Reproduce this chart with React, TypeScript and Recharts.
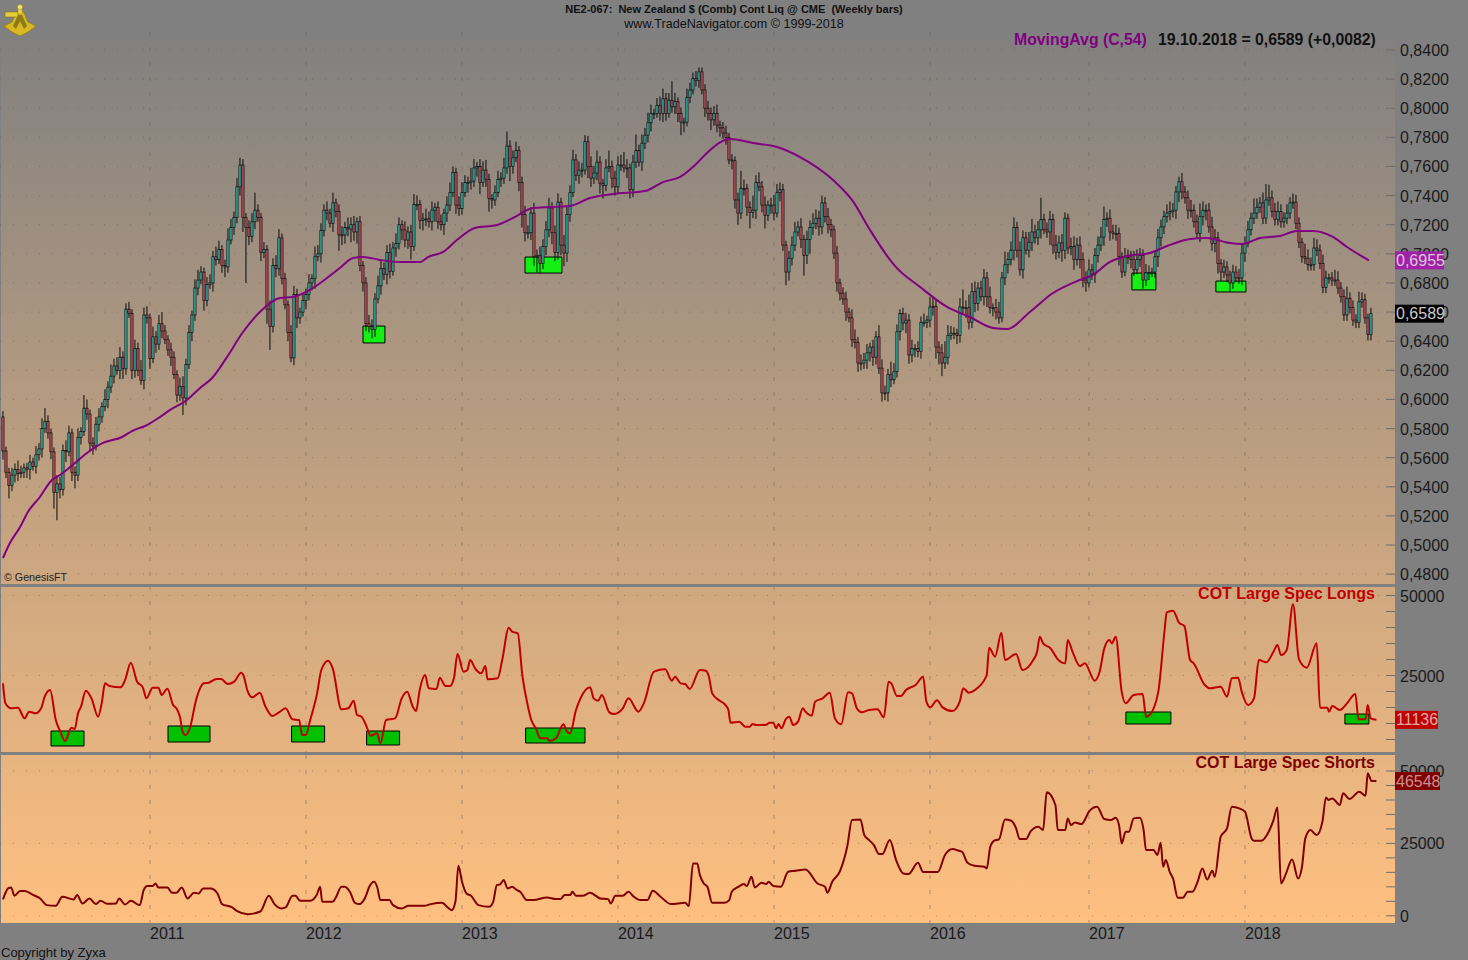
import { Bar, CartesianGrid, ComposedChart, Line, ReferenceArea, ReferenceLine, XAxis, YAxis } from 'recharts';

// weekly closes in 1/10000 of a dollar, ten bars per row, first bar Feb 2010
const firstOpen = 5880;
const closes = [
  5646, 5500, 5410, 5480, 5520, 5490, 5500, 5530, 5520, 5570,
  5540, 5620, 5660, 5800, 5850, 5770, 5640, 5360, 5420, 5380,
  5650, 5640, 5770, 5500, 5480, 5740, 5780, 5940, 5900, 5700,
  5680, 5830, 5880, 5950, 6000, 6085, 6160, 6230, 6200, 6290,
  6210, 6620, 6590, 6200, 6350, 6200, 6130, 6580, 6560, 6280,
  6430, 6380, 6520, 6470, 6410, 6340, 6290, 6170, 6030, 6090,
  6010, 6240, 6460, 6580, 6765, 6820, 6875, 6680, 6790, 6800,
  6980, 6960, 7030, 6920, 6910, 7095, 7180, 7250, 7460, 7610,
  7250, 7180, 7120, 7220, 7300, 7250, 7010, 7030, 6620, 6500,
  6920, 6900, 7110, 6830, 6650, 6460, 6285, 6720, 6560, 6600,
  6680, 6720, 6800, 6830, 6980, 7000, 7160, 7300, 7280, 7210,
  7350, 7290, 7130, 7130, 7180, 7170, 7200, 7150, 7220, 6920,
  6800, 6520, 6500, 6480, 6690, 6780, 6900, 6860, 7010, 6880,
  7040, 7070, 7200, 7164, 7095, 7150, 7050, 7340, 7340, 7230,
  7240, 7240, 7220, 7300, 7320, 7220, 7200, 7280, 7335, 7420,
  7560, 7335, 7310, 7420, 7490, 7490, 7500, 7590, 7600, 7490,
  7575, 7510, 7380, 7370, 7420, 7510, 7520, 7590, 7740, 7600,
  7660, 7710, 7490, 7270, 7145, 7145, 7280, 6980, 6990, 6935,
  7050, 7165, 7315, 7145, 7010, 7355, 7060, 7005, 7270, 7420,
  7645, 7540, 7575, 7575, 7770, 7600, 7520, 7555, 7630, 7485,
  7470, 7590, 7600, 7520, 7460, 7610, 7610, 7590, 7590, 7440,
  7630, 7710, 7630, 7760, 7815, 7900, 7965, 7965, 8020, 7965,
  8065, 7965, 8055, 8010, 8045, 7965, 7905, 7905, 8075, 8125,
  8205, 8190, 8250, 8125, 8000, 7965, 7920, 7965, 7885, 7865,
  7830, 7800, 7645, 7640, 7370, 7280, 7450, 7450, 7320, 7285,
  7300, 7490, 7460, 7335, 7265, 7335, 7335, 7280, 7420, 7440,
  7060, 6875, 6970, 7060, 7150, 7185, 7100, 6990, 7100, 7180,
  7210, 7245, 7185, 7350, 7255, 7200, 7165, 7005, 6800, 6730,
  6690, 6600, 6560, 6410, 6390, 6250, 6250, 6270, 6320, 6360,
  6290, 6430, 6215, 6045, 6045, 6170, 6135, 6190, 6465, 6590,
  6525, 6545, 6305, 6350, 6350, 6330, 6530, 6530, 6545, 6635,
  6640, 6360, 6320, 6250, 6290, 6440, 6455, 6455, 6440, 6635,
  6630, 6630, 6530, 6740, 6660, 6765, 6705, 6835, 6705, 6630,
  6630, 6600, 6560, 6835, 6925, 6960, 7025, 7180, 7025, 6890,
  7110, 7025, 7080, 7150, 7110, 7165, 7235, 7165, 7150, 7235,
  7060, 7010, 7075, 7025, 7245, 7040, 7050, 6960, 7060, 6960,
  6820, 6800, 6890, 6860, 6990, 7060, 7115, 7235, 7245, 7150,
  7140, 7140, 6980, 6875, 6980, 6980, 6960, 6890, 6960, 6990,
  6820, 6870, 6870, 6875, 6980, 7110, 7185, 7255, 7280, 7290,
  7300, 7425, 7495, 7425, 7385, 7300, 7300, 7220, 7140, 7255,
  7300, 7300, 7185, 7070, 7110, 6935, 6875, 6910, 6855, 6800,
  6875, 6835, 6835, 7005, 7070, 7165, 7245, 7280, 7320, 7350,
  7245, 7370, 7385, 7290, 7235, 7290, 7220, 7245, 7280, 7350,
  7355, 7210, 7080, 6980, 6970, 6925, 6925, 7040, 7025, 6935,
  6770, 6835, 6835, 6820, 6820, 6765, 6705, 6580, 6695, 6630,
  6545, 6530, 6670, 6685, 6560, 6445, 6589,
];

// wick lengths above and below the body, same order as closes
const upperWicks = [
  40, 30, 30, 50, 40, 60, 45, 30, 35, 50,
  30, 60, 40, 70, 90, 40, 30, 30, 60, 50,
  40, 70, 50, 30, 40, 60, 30, 90, 60, 30,
  40, 50, 60, 30, 70, 40, 80, 50, 60, 70,
  40, 40, 50, 30, 60, 40, 70, 50, 60, 30,
  70, 40, 60, 80, 40, 30, 50, 40, 30, 60,
  70, 40, 50, 30, 60, 70, 40, 30, 50, 60,
  40, 70, 60, 30, 40, 80, 60, 40, 60, 50,
  40, 30, 50, 60, 120, 40, 30, 50, 30, 60,
  50, 70, 60, 30, 40, 30, 50, 60, 40, 30,
  50, 40, 60, 30, 70, 60, 50, 40, 60, 30,
  70, 30, 50, 60, 40, 70, 50, 60, 30, 40,
  30, 40, 60, 50, 40, 70, 60, 40, 50, 60,
  40, 70, 50, 30, 60, 40, 50, 70, 60, 30,
  40, 70, 50, 60, 30, 40, 50, 30, 60, 70,
  40, 30, 60, 70, 50, 40, 90, 60, 30, 50,
  60, 70, 40, 30, 50, 60, 40, 70, 100, 40,
  50, 60, 30, 40, 60, 50, 40, 70, 40, 60,
  50, 60, 70, 40, 50, 60, 30, 70, 60, 50,
  70, 40, 60, 50, 45, 40, 70, 50, 80, 40,
  30, 60, 110, 40, 50, 60, 70, 90, 60, 30,
  50, 110, 40, 60, 50, 70, 60, 30, 50, 60,
  70, 40, 50, 130, 60, 30, 40, 30, 60, 50,
  40, 50, 30, 30, 40, 50, 40, 50, 60, 30,
  40, 50, 30, 40, 30, 50, 120, 60, 30, 40,
  100, 50, 70, 40, 60, 30, 50, 70, 60, 50,
  40, 30, 50, 60, 70, 40, 60, 30, 60, 50,
  70, 60, 50, 50, 40, 60, 40, 30, 50, 30,
  40, 50, 30, 60, 70, 40, 60, 50, 60, 30,
  50, 40, 80, 60, 50, 40, 90, 60, 50, 30,
  40, 50, 40, 60, 30, 50, 40, 60, 30, 70,
  60, 50, 40, 60, 110, 70, 50, 40, 30, 60,
  120, 50, 90, 60, 70, 40, 50, 60, 40, 70,
  30, 60, 70, 40, 90, 50, 60, 70, 40, 60,
  50, 40, 70, 90, 50, 60, 150, 40, 50, 60,
  40, 70, 50, 60, 40, 30, 60, 70, 50, 60,
  50, 60, 70, 40, 50, 60, 70, 90, 40, 60,
  50, 60, 40, 30, 60, 50, 40, 60, 70, 50,
  40, 60, 50, 30, 40, 60, 50, 40, 60, 70,
  50, 40, 35, 60, 40, 50, 70, 40, 50, 90,
  60, 40, 50, 70, 60, 40, 30, 50, 40, 30,
  50, 40, 60, 70, 50, 60, 40, 100, 60, 40,
  70, 110, 90, 50, 60, 70, 50, 40, 60, 40,
  60, 50, 40, 30, 90, 60, 50, 70, 60, 40,
  60, 50, 30, 40, 70, 60, 40, 50, 80, 40,
  50, 40, 70, 50, 40, 30, 40,
];

const lowerWicks = [
  60, 40, 90, 40, 50, 50, 30, 40, 60, 70,
  30, 50, 40, 60, 30, 40, 50, 110, 190, 60,
  40, 70, 30, 60, 90, 40, 50, 30, 40, 50,
  60, 30, 50, 40, 30, 60, 40, 50, 30, 60,
  70, 40, 30, 60, 50, 40, 30, 60, 40, 70,
  30, 60, 40, 50, 30, 40, 60, 30, 50, 40,
  117, 50, 30, 60, 40, 50, 30, 70, 40, 30,
  60, 40, 30, 50, 70, 40, 30, 50, 40, 60,
  100, 380, 60, 40, 50, 30, 60, 40, 100, 160,
  40, 60, 50, 40, 30, 60, 30, 50, 70, 40,
  30, 60, 40, 50, 70, 30, 60, 40, 50, 30,
  60, 40, 110, 70, 60, 50, 90, 60, 80, 40,
  60, 50, 40, 60, 50, 30, 60, 40, 70, 50,
  30, 60, 40, 70, 50, 60, 90, 30, 40, 60,
  70, 50, 40, 60, 80, 50, 40, 70, 60, 40,
  30, 60, 50, 40, 30, 70, 50, 40, 60, 80,
  30, 50, 90, 60, 40, 30, 50, 40, 40, 100,
  50, 30, 60, 90, 60, 40, 50, 60, 110, 70,
  40, 60, 50, 80, 60, 50, 70, 90, 60, 50,
  30, 40, 60, 50, 30, 80, 60, 40, 50, 70,
  90, 40, 30, 70, 60, 50, 40, 30, 70, 60,
  50, 40, 30, 60, 40, 50, 60, 40, 30, 50,
  60, 50, 30, 40, 50, 60, 90, 70, 30, 40,
  30, 40, 50, 30, 60, 50, 70, 40, 50, 60,
  40, 50, 30, 60, 60, 80, 40, 50, 60, 110,
  40, 60, 30, 50, 90, 40, 60, 50, 30, 60,
  40, 90, 60, 50, 40, 30, 60, 140, 60, 100,
  50, 40, 60, 50, 40, 60, 50, 40, 60, 50,
  40, 60, 30, 50, 40, 60, 50, 40, 60, 60,
  60, 50, 40, 60, 50, 60, 50, 30, 40, 60,
  50, 70, 60, 50, 60, 40, 50, 30, 40, 50,
  60, 80, 80, 90, 40, 50, 30, 40, 60, 50,
  40, 70, 50, 40, 60, 50, 30, 60, 70, 40,
  60, 50, 40, 30, 50, 60, 40, 70, 50, 40,
  60, 30, 50, 60, 40, 50, 60, 30, 40, 90,
  60, 50, 40, 80, 60, 40, 50, 70, 40, 60,
  50, 60, 30, 40, 60, 50, 40, 60, 50, 60,
  40, 50, 60, 40, 30, 50, 60, 40, 30, 50,
  60, 40, 50, 30, 40, 70, 60, 50, 40, 50,
  40, 60, 70, 50, 40, 60, 50, 40, 30, 60,
  60, 70, 40, 50, 60, 70, 60, 40, 50, 60,
  40, 30, 40, 50, 60, 25, 40,
];

const movingAvg = [
  [0, 4911], [2.3, 5014], [5.7, 5124], [8.3, 5227], [12.3, 5330], [16.3, 5447], [19, 5481], [24, 5564], [28, 5632],
  [33.3, 5701], [39.7, 5742], [43, 5783], [48, 5824], [52.3, 5879], [55.7, 5928], [61.3, 5996], [65.7, 6079], [69.7, 6147],
  [74.7, 6292], [80, 6463], [86.3, 6614], [92.3, 6697], [96.7, 6704], [102.3, 6752], [108, 6834], [112.3, 6903], [116.7, 6971],
  [120, 6978], [125.7, 6958], [132.3, 6944], [139, 6944], [141.7, 6978], [146.7, 7013], [151.3, 7095], [157.3, 7178], [164.7, 7198],
  [170, 7246], [176.7, 7315], [189, 7329], [195.7, 7384], [203.3, 7411], [214, 7432], [220, 7493], [225.7, 7528], [230.7, 7610],
  [235, 7700], [242.3, 7789], [250, 7761], [258, 7734], [265.7, 7665], [276.7, 7507], [283, 7370], [289, 7164], [295.7, 6958],
  [297.3, 6917], [305.7, 6772], [314.7, 6635], [322.3, 6566], [330, 6491], [334.7, 6484], [342.3, 6601], [350, 6731], [358, 6813],
  [363.3, 6855], [369, 6944], [374.7, 6985], [382.3, 7006], [388, 7054], [395.7, 7102], [401.3, 7109], [409, 7074], [413, 7068],
  [419, 7109], [425.7, 7123], [431.3, 7157], [436.7, 7157], [443.3, 7116], [448, 7047], [455.3, 6955],
];

const specLongs = [
  [0, 22550], [0.8, 16300], [2.7, 14740], [5, 14950], [7.2, 11610], [8.7, 13700], [10.9, 13170], [12.7, 14740], [13.9, 18380], [15.7, 20470],
  [17.6, 11090], [19.1, 7450], [20.7, 4530], [22.8, 8700], [23.9, 8280], [25, 13170], [26, 15260], [27.6, 20260], [29.5, 17860], [31.7, 12130],
  [32.9, 16300], [34, 22550], [35.5, 21720], [39.2, 21300], [40.7, 23590], [42.6, 29010], [44.7, 23070], [46.6, 21300], [47.8, 17860], [49.9, 21200],
  [51.8, 21200], [52.9, 18900], [54.8, 20880], [56.7, 15780], [57.8, 14740], [59.3, 10570], [59.7, 7970], [60.8, 6400], [62.2, 8280], [64.5, 17860],
  [66.9, 22550], [68.6, 22760], [71.2, 23900], [72.7, 23900], [74.9, 22340], [77.1, 23070], [79.4, 25880], [80.1, 25150], [81.6, 19950], [83.1, 18180],
  [85.6, 19630], [87.5, 15260], [89.8, 12340], [92, 13490], [94.2, 14740], [96.5, 11300], [98.7, 11090], [99.7, 6400], [100.9, 6400], [102.4, 11090],
  [104.7, 19420], [106.1, 26720], [108.4, 29630], [109.9, 27240], [112.8, 14420], [115.1, 14740], [116.9, 17130], [118, 12650], [119.5, 12130], [121.3, 8800],
  [122.5, 6200], [124.7, 6920], [125.8, 3800], [127.7, 11090], [130.7, 11610], [132.9, 17860], [134.7, 19950], [136.6, 15260], [137.7, 13900], [138.9, 20470],
  [140.7, 25150], [141.9, 20990], [144.5, 20780], [145.6, 24320], [147.5, 21720], [149, 21720], [150.3, 24110], [151.5, 31720], [153.5, 26200], [154.8, 26720],
  [155.7, 29840], [157.5, 27030], [159.4, 25680], [160.8, 27970], [161.5, 23800], [164.9, 24110], [166.4, 29840], [168.6, 39950], [169.7, 38700], [171.6, 38180],
  [173.1, 25150], [175, 15260], [176.1, 11090], [177.6, 8490], [179.1, 5360], [181.3, 5360], [182.3, 4530], [184.3, 5360], [186.8, 9740], [188, 7450],
  [189, 6920], [191, 14220], [192.5, 17860], [195.7, 21300], [196.9, 17860], [198.4, 17130], [199.6, 18900], [202.1, 13490], [203.6, 12960], [206.6, 14740],
  [208.5, 17860], [211.8, 13700], [213.6, 16300], [217, 26200], [220.7, 26930], [223, 23380], [224, 24640], [225.9, 22550], [227.4, 22340], [228.9, 20780],
  [232.3, 26720], [234.3, 26510], [235.3, 24640], [236.4, 19420], [238.9, 17130], [240.5, 16090], [241.8, 14220], [242.5, 10260], [245.4, 10570], [247.4, 9010],
  [249, 9010], [249.8, 9840], [251.1, 9530], [254.4, 9630], [255.5, 10260], [256.8, 10260], [257.7, 8490], [258.5, 9840], [259.5, 8490], [260.9, 11300],
  [262.1, 12130], [263.4, 9530], [265, 10570], [266.6, 14740], [267.5, 13700], [269.6, 12450], [270.7, 16820], [273.2, 17860], [275.6, 19630], [277.3, 11610],
  [279.4, 9740], [281.7, 19740], [283, 19420], [284.6, 14740], [286.2, 13490], [288.7, 14220], [291.5, 14420], [293.6, 11920], [295.2, 23070], [296.1, 22550],
  [298, 18590], [299.3, 18590], [301, 20470], [304.2, 22030], [306.7, 24640], [307.8, 16820], [309.1, 15050], [311.3, 17240], [313.2, 15050], [316.5, 13900],
  [318.9, 16820], [320.1, 20990], [321.9, 19630], [324.7, 20990], [327.9, 25150], [328.7, 33700], [330.7, 30880], [332.8, 38380], [334, 29840], [337.7, 31720],
  [339.8, 26720], [343.4, 29840], [344.7, 32450], [345.6, 37130], [346.7, 35050], [349.2, 33490], [351.6, 30050], [354.1, 28800], [354.9, 36090], [356.5, 32450],
  [359, 27970], [360.6, 28800], [363.9, 23380], [365.5, 25990], [367.1, 33490], [368.8, 36090], [369.6, 35050], [370.9, 37130], [372.9, 19950], [374.2, 16300],
  [376.9, 18900], [379.9, 19220], [381, 12130], [382.2, 12650], [385.1, 19950], [387.2, 39220], [387.9, 44740], [390, 45260], [392, 41510], [393.8, 40470],
  [395.7, 29840], [396.9, 28800], [400.6, 22030], [402.3, 20990], [405.9, 21510], [408, 18380], [409.6, 24110], [411.7, 24320], [412.9, 19950], [415, 15780],
  [417, 17860], [418.6, 29840], [421.1, 29110], [423.5, 32450], [424.8, 34530], [426, 31400], [427.9, 32970], [430, 47240], [432, 30050], [434.6, 27450],
  [437.9, 35050], [439, 14950], [441.5, 14950], [442, 13700], [443.1, 15470], [445.6, 14220], [448, 16300], [450.8, 19220], [451.8, 11300], [454.2, 11300],
  [454.9, 15780], [455.9, 11610], [457.8, 11136],
];

const specShorts = [
  [0, 5645], [1.7, 9446], [2.7, 9792], [3.8, 6912], [5.7, 8525], [7.2, 8525], [10.2, 7142], [12.4, 5990], [14.6, 3686], [17.6, 3456],
  [19.8, 6566], [23.6, 5645], [24.7, 7142], [26.5, 4262], [28.8, 5990], [31, 4032], [32.5, 5184], [34.7, 4147], [37.7, 4262], [38.7, 5990],
  [40.7, 3917], [42.6, 5184], [45.6, 3686], [46.9, 8870], [48.1, 10253], [49.9, 10253], [50.8, 11174], [51.8, 9792], [54.8, 9792], [56.3, 7949],
  [57.8, 7949], [59.6, 9792], [61.5, 5990], [63.7, 7949], [65.2, 7718], [66.7, 9446], [69.2, 9446], [71.5, 7718], [73, 4032], [76.4, 2880],
  [77.9, 1728], [81.6, 576], [85.8, 1498], [88.6, 6912], [90.5, 4032], [92.8, 2534], [94.2, 2880], [96.5, 6912], [97.5, 6912], [99, 5184],
  [102.4, 5184], [104.7, 7488], [105.7, 10022], [106.4, 4838], [109.9, 4838], [110.9, 6221], [112.8, 10022], [113.9, 10022], [115.8, 7949], [117.3, 4493],
  [118.8, 4032], [120.7, 6221], [122.1, 10022], [123.7, 11750], [124.7, 10022], [125.8, 5414], [128.8, 5414], [130, 3686], [132.9, 2534], [135.2, 3456],
  [140.4, 3456], [142.6, 4032], [146.3, 4493], [148.6, 2534], [149.6, 1958], [150.8, 4838], [151.8, 17280], [153, 11750], [154.5, 7718], [156, 6912],
  [158.5, 3686], [162, 3110], [163.4, 4838], [164.6, 10598], [165.7, 10829], [166.9, 12326], [168.2, 9446], [169.7, 10022], [171.3, 8870], [172.4, 8294],
  [174.6, 5414], [176.8, 5414], [181.3, 6336], [184.3, 5760], [185.8, 5760], [187.2, 7142], [189, 7142], [189.8, 8294], [191, 6912], [193.2, 6912],
  [195.7, 7949], [199.1, 5990], [201.7, 5760], [202.6, 4262], [204.1, 6912], [206.6, 6912], [208.5, 8294], [210.3, 6566], [212.5, 5414], [214.8, 5414],
  [216.6, 8640], [219.2, 6566], [222.7, 4032], [227.4, 4493], [228.6, 3341], [230, 18086], [231.4, 18086], [232.3, 14054], [233.6, 11174], [234.8, 10022],
  [236.4, 4493], [240.5, 4493], [242.1, 5414], [242.9, 8294], [245.1, 10022], [247, 10944], [247.9, 10253], [249.5, 13478], [250.6, 9792], [252.8, 11405],
  [254.4, 10944], [255.2, 11750], [256.8, 10253], [259.3, 10022], [261.7, 15206], [264.2, 15552], [267.5, 16013], [271.5, 11174], [274, 10022], [274.8, 7949],
  [276.4, 11750], [278.9, 15206], [281.4, 23846], [283, 33062], [285.8, 33293], [287.1, 27878], [288.7, 26150], [290.3, 24422], [292, 21312], [293.1, 21312],
  [295.6, 26150], [297.7, 19238], [300.1, 14630], [301.8, 14400], [305, 18317], [306.7, 15091], [311.6, 15091], [314, 20966], [316.5, 23040], [318.6, 22464],
  [319.7, 22118], [321.4, 18432], [323.8, 17280], [327.1, 16934], [327.9, 16358], [329.1, 23846], [330.4, 25920], [332, 26381], [334, 33293], [336.1, 32832],
  [337.7, 30182], [338.9, 26496], [341, 26496], [342.6, 29261], [345.1, 30758], [346.7, 29606], [347.9, 42624], [350.8, 38246], [351.6, 29606], [354.1, 29606],
  [354.9, 33638], [356, 31334], [357.3, 32256], [359.5, 31680], [362.2, 36288], [364.7, 37670], [367.1, 33408], [369.3, 33062], [370.9, 33869], [372, 31334],
  [372.9, 24998], [374.2, 29030], [375.3, 29030], [376.9, 33638], [378.9, 33869], [380.2, 29606], [381, 22694], [383.5, 22694], [384.8, 20966], [385.9, 25229],
  [386.7, 16934], [387.6, 19238], [388.9, 15206], [390, 12902], [391.6, 6221], [393.3, 6221], [394.9, 8294], [396.5, 8294], [398.2, 11750], [399.8, 16358],
  [401.4, 12557], [403.1, 15552], [403.9, 13478], [405.9, 27302], [408, 30182], [409.6, 37670], [412.1, 37094], [414, 35942], [416.2, 26726], [417, 25920],
  [419.4, 25920], [421.9, 29030], [423.5, 33062], [424.8, 37440], [426, 11174], [427.6, 14400], [429.7, 19469], [431.7, 12902], [433, 16934], [434.1, 26726],
  [435.8, 29606], [437.9, 27878], [439.8, 32486], [441, 40896], [441.8, 39974], [443.1, 40550], [445.6, 38246], [446.7, 42278], [448.8, 40320], [452.1, 42854],
  [454.2, 41472], [454.9, 49190], [456.2, 46541], [457.8, 46548],
];

// green marker boxes: week from, week to, value bottom, value top
const priceBoxes = [
  [120, 127.3, 0.6388, 0.6504],
  [174, 186.3, 0.6868, 0.6978],
  [376.3, 384.3, 0.6752, 0.6868],
  [404.3, 414.3, 0.6738, 0.6813],
];
const longBoxes = [
  [16, 27, 2970, 7656],
  [55, 69, 4219, 9219],
  [96.2, 107.2, 4219, 9219],
  [121.2, 132.2, 3281, 7656],
  [174.2, 194, 3906, 8594],
  [374.3, 389.3, 9844, 13594],
  [447.3, 455.3, 9844, 12969],
];

const yearWeeks = [49, 101, 153, 205, 257, 309, 362, 414];
const yearLabels = ['2011', '2012', '2013', '2014', '2015', '2016', '2017', '2018'];
const weekDomain = [-1, 464];

const priceTicks = [0.48, 0.5, 0.52, 0.54, 0.56, 0.58, 0.6, 0.62, 0.64, 0.66, 0.68, 0.7, 0.72, 0.74, 0.76, 0.78, 0.8, 0.82, 0.84];
const cotTicks = [0, 5000, 10000, 15000, 20000, 25000, 30000, 35000, 40000, 45000, 50000];
const cotLabelled = [0, 25000, 50000];

const priceDomain = [0.47324, 0.85236];
const longDomain = [1094, 52969];
const shortDomain = [-2488, 55530];

const candles = closes.map((close, i) => {
  const open = i === 0 ? firstOpen : closes[i - 1];
  const high = Math.max(open, close) + (upperWicks[i] ?? 40);
  const low = Math.min(open, close) - (lowerWicks[i] ?? 40);
  return {
    week: i,
    open: open / 10000,
    close: close / 10000,
    range: [low / 10000, high / 10000],
  };
});
const maRows = movingAvg.map(([week, v]) => ({ week, value: v / 10000 }));
const longRows = specLongs.map(([week, value]) => ({ week, value }));
const shortRows = specShorts.map(([week, value]) => ({ week, value }));

const FONT = '"Liberation Sans", Arial, sans-serif';
const PLOT_RIGHT_GUTTER = 73;

function Candle(props: any) {
  const { x, y, width, height, payload } = props;
  const top = Math.min(y, y + height);
  const h = Math.abs(height);
  const [low, high] = payload.range;
  const perUnit = h / (high - low || 1);
  const yOf = (v: number) => top + (high - v) * perUnit;
  const cx = x + width / 2;
  const bodyTop = yOf(Math.max(payload.open, payload.close));
  const bodyBottom = yOf(Math.min(payload.open, payload.close));
  const up = payload.close >= payload.open;
  return (
    <g>
      <line x1={cx} x2={cx} y1={top} y2={top + h} stroke="#0a0a0a" strokeWidth={1} />
      <rect
        x={cx - 1.1}
        width={2.2}
        y={bodyTop}
        height={Math.max(bodyBottom - bodyTop, 1)}
        fill={up ? '#2fb8ad' : '#c9505f'}
        stroke="#0a0a0a"
        strokeWidth={0.7}
      />
    </g>
  );
}

function ValueTick(props: any) {
  const { x, y, payload, labelled, format } = props;
  const show = !labelled || labelled.includes(payload.value);
  return (
    <g>
      <line x1={x - 9} x2={x} y1={y} y2={y} stroke="#6e6e6e" strokeWidth={1} />
      {show && (
        <text x={x + 5} y={y} dy={6} fontFamily={FONT} fontSize={16} fill="#1a1a1a">
          {format ? format(payload.value) : payload.value}
        </text>
      )}
    </g>
  );
}

function YearTick(props: any) {
  const { x, y, payload } = props;
  return (
    <text x={x} y={y} dy={16} fontFamily={FONT} fontSize={16} fill="#1a1a1a">
      {yearLabels[yearWeeks.indexOf(payload.value)]}
    </text>
  );
}

function ValueTag(props: any) {
  const { viewBox, text, fill, color, w } = props;
  const x = viewBox.x + viewBox.width;
  return (
    <g>
      <rect x={x} y={viewBox.y - 9} width={w} height={18} fill={fill} />
      <text x={x + 1} y={viewBox.y} dy={5.5} fontFamily={FONT} fontSize={16} fill={color}>
        {text}
      </text>
    </g>
  );
}

// tags go in a chart of their own on top, they cover the axis numbers behind them
function TagLayer({ top, height, bottom, domain, tags }: any) {
  return (
    <div style={{ position: 'absolute', left: 0, top }}>
      <ComposedChart width={1468} height={height} data={maRows} margin={{ top: 0, right: PLOT_RIGHT_GUTTER, bottom: bottom ?? 0, left: 0 }}>
        <XAxis type="number" dataKey="week" domain={weekDomain} hide />
        <YAxis domain={domain} hide allowDataOverflow />
        {tags.map((t: any) => (
          <ReferenceLine key={t.text} y={t.value} strokeOpacity={0} label={<ValueTag text={t.text} fill={t.fill} color={t.color} w={t.w} />} />
        ))}
      </ComposedChart>
    </div>
  );
}

const formatPrice = (v: number) => v.toFixed(4).replace('.', ',');

function Grid({ values }: { values: number[] }) {
  return (
    <>
      <CartesianGrid vertical={false} horizontalValues={values} stroke="#5a4a3a" strokeOpacity={0.4} strokeDasharray="1 12" />
      <CartesianGrid horizontal={false} verticalValues={yearWeeks} stroke="#6a6258" strokeOpacity={0.55} strokeDasharray="4 11" />
    </>
  );
}

function Logo() {
  return (
    <svg width={36} height={36} style={{ position: 'absolute', left: 2, top: 2 }} viewBox="0 0 36 36">
      <polygon points="2,24 10,20 15,9 21,9 26,20 34,24 26,30 18,34 10,30" fill="#d8b820" stroke="#8a7410" strokeWidth={0.6} />
      <polygon points="11,24 16,13 20,13 25,24 22,27 18,19 14,27" fill="#8f7a18" />
      <rect x={3} y={10} width={13} height={5} fill="#e6cc3a" stroke="#7a6610" strokeWidth={0.5} />
      <rect x={16} y={4} width={4} height={8} fill="#eed64a" stroke="#8a7410" strokeWidth={0.4} />
      <circle cx={18} cy={5} r={2.6} fill="#f4e060" stroke="#8a7410" strokeWidth={0.4} />
    </svg>
  );
}

const label = (style: React.CSSProperties, text: string) => (
  <div style={{ position: 'absolute', fontFamily: FONT, whiteSpace: 'pre', ...style }}>{text}</div>
);

export default function App() {
  return (
    <div style={{ position: 'absolute', left: 0, top: 0, width: 1468, height: 960, background: '#808080', overflow: 'hidden' }}>
      <div
        style={{
          position: 'absolute',
          left: 1,
          top: 32,
          width: 1394,
          height: 891,
          background: 'linear-gradient(to bottom, #808080 0%, #ffc080 100%)',
        }}
      />

      <div style={{ position: 'absolute', left: 0, top: 32 }}>
        <ComposedChart width={1468} height={552} data={candles} margin={{ top: 0, right: 0, bottom: 0, left: 0 }}>
          <Grid values={priceTicks} />
          <XAxis type="number" dataKey="week" domain={weekDomain} hide />
          <YAxis
            orientation="right"
            width={PLOT_RIGHT_GUTTER}
            domain={priceDomain}
            ticks={priceTicks}
            interval={0}
            allowDataOverflow
            axisLine={false}
            tickLine={false}
            tickSize={0}
            tickMargin={0}
            tick={(p: any) => <ValueTick {...p} format={formatPrice} />}
          />
          {priceBoxes.map(([x1, x2, y1, y2]) => (
            <ReferenceArea key={x1} x1={x1} x2={x2} y1={y1} y2={y2} fill="#14f014" fillOpacity={1} stroke="#000" strokeWidth={1} />
          ))}
          <Bar dataKey="range" barSize={3} shape={<Candle />} isAnimationActive={false} />
          <Line data={maRows} dataKey="value" type="monotone" stroke="#800080" strokeWidth={2} dot={false} isAnimationActive={false} />
        </ComposedChart>
      </div>

      <div style={{ position: 'absolute', left: 0, top: 586 }}>
        <ComposedChart width={1468} height={166} data={longRows} margin={{ top: 0, right: 0, bottom: 0, left: 0 }}>
          <Grid values={[25000, 50000]} />
          <XAxis type="number" dataKey="week" domain={weekDomain} hide />
          <YAxis
            orientation="right"
            width={PLOT_RIGHT_GUTTER}
            domain={longDomain}
            ticks={cotTicks.slice(1)}
            interval={0}
            allowDataOverflow
            axisLine={false}
            tickLine={false}
            tickSize={0}
            tickMargin={0}
            tick={(p: any) => <ValueTick {...p} labelled={cotLabelled} />}
          />
          {longBoxes.map(([x1, x2, y1, y2]) => (
            <ReferenceArea key={x1} x1={x1} x2={x2} y1={y1} y2={y2} fill="#00c000" fillOpacity={1} stroke="#000" strokeWidth={1} />
          ))}
          <Line dataKey="value" type="monotone" stroke="#c00000" strokeWidth={2} dot={false} isAnimationActive={false} />
        </ComposedChart>
      </div>

      <div style={{ position: 'absolute', left: 0, top: 755 }}>
        <ComposedChart width={1468} height={205} data={shortRows} margin={{ top: 0, right: 0, bottom: 0, left: 0 }}>
          <Grid values={cotLabelled} />
          <XAxis
            type="number"
            dataKey="week"
            domain={weekDomain}
            ticks={yearWeeks}
            interval={0}
            height={37}
            axisLine={false}
            tickLine={false}
            tickSize={0}
            tickMargin={0}
            tick={<YearTick />}
          />
          <YAxis
            orientation="right"
            width={PLOT_RIGHT_GUTTER}
            domain={shortDomain}
            ticks={cotTicks}
            interval={0}
            allowDataOverflow
            axisLine={false}
            tickLine={false}
            tickSize={0}
            tickMargin={0}
            tick={(p: any) => <ValueTick {...p} labelled={cotLabelled} />}
          />
          <Line dataKey="value" type="monotone" stroke="#800000" strokeWidth={2} dot={false} isAnimationActive={false} />
        </ComposedChart>
      </div>

      <TagLayer
        top={32}
        height={552}
        domain={priceDomain}
        tags={[
          { value: 0.6955, text: '0,6955', fill: '#a020a8', color: '#d8c8d8', w: 49 },
          { value: 0.6589, text: '0,6589', fill: '#000000', color: '#c8c8c8', w: 49 },
        ]}
      />
      <TagLayer top={586} height={166} domain={longDomain} tags={[{ value: 11136, text: '11136', fill: '#c00000', color: '#e0a8a8', w: 43 }]} />
      <TagLayer top={755} height={205} bottom={37} domain={shortDomain} tags={[{ value: 46548, text: '46548', fill: '#800000', color: '#c89090', w: 45 }]} />

      <div style={{ position: 'absolute', left: 0, top: 583.5, width: 1395, height: 3, background: '#808080' }} />
      <div style={{ position: 'absolute', left: 0, top: 752, width: 1395, height: 3, background: '#808080' }} />

      <Logo />
      {label({ left: 0, width: 1468, top: 3, textAlign: 'center', fontSize: 11, fontWeight: 700, color: '#111' }, 'NE2-067:  New Zealand $ (Comb) Cont Liq @ CME  (Weekly bars)')}
      {label({ left: 0, width: 1468, top: 17, textAlign: 'center', fontSize: 12.6, color: '#111' }, 'www.TradeNavigator.com © 1999-2018')}
      {label({ left: 1014, top: 31, fontSize: 15.8, fontWeight: 700, color: '#800080' }, 'MovingAvg (C,54)')}
      {label({ left: 1158, top: 31, fontSize: 15.8, fontWeight: 700, color: '#111' }, '19.10.2018 = 0,6589 (+0,0082)')}
      {label({ right: 93, top: 585, fontSize: 16, fontWeight: 700, color: '#c00000' }, 'COT Large Spec Longs')}
      {label({ right: 93, top: 754, fontSize: 16, fontWeight: 700, color: '#800000' }, 'COT Large Spec Shorts')}
      {label({ left: 4, top: 571, fontSize: 10.7, color: '#222' }, '© GenesisFT')}
      {label({ left: 1, top: 945, fontSize: 13, color: '#111' }, 'Copyright by Zyxa')}
    </div>
  );
}
